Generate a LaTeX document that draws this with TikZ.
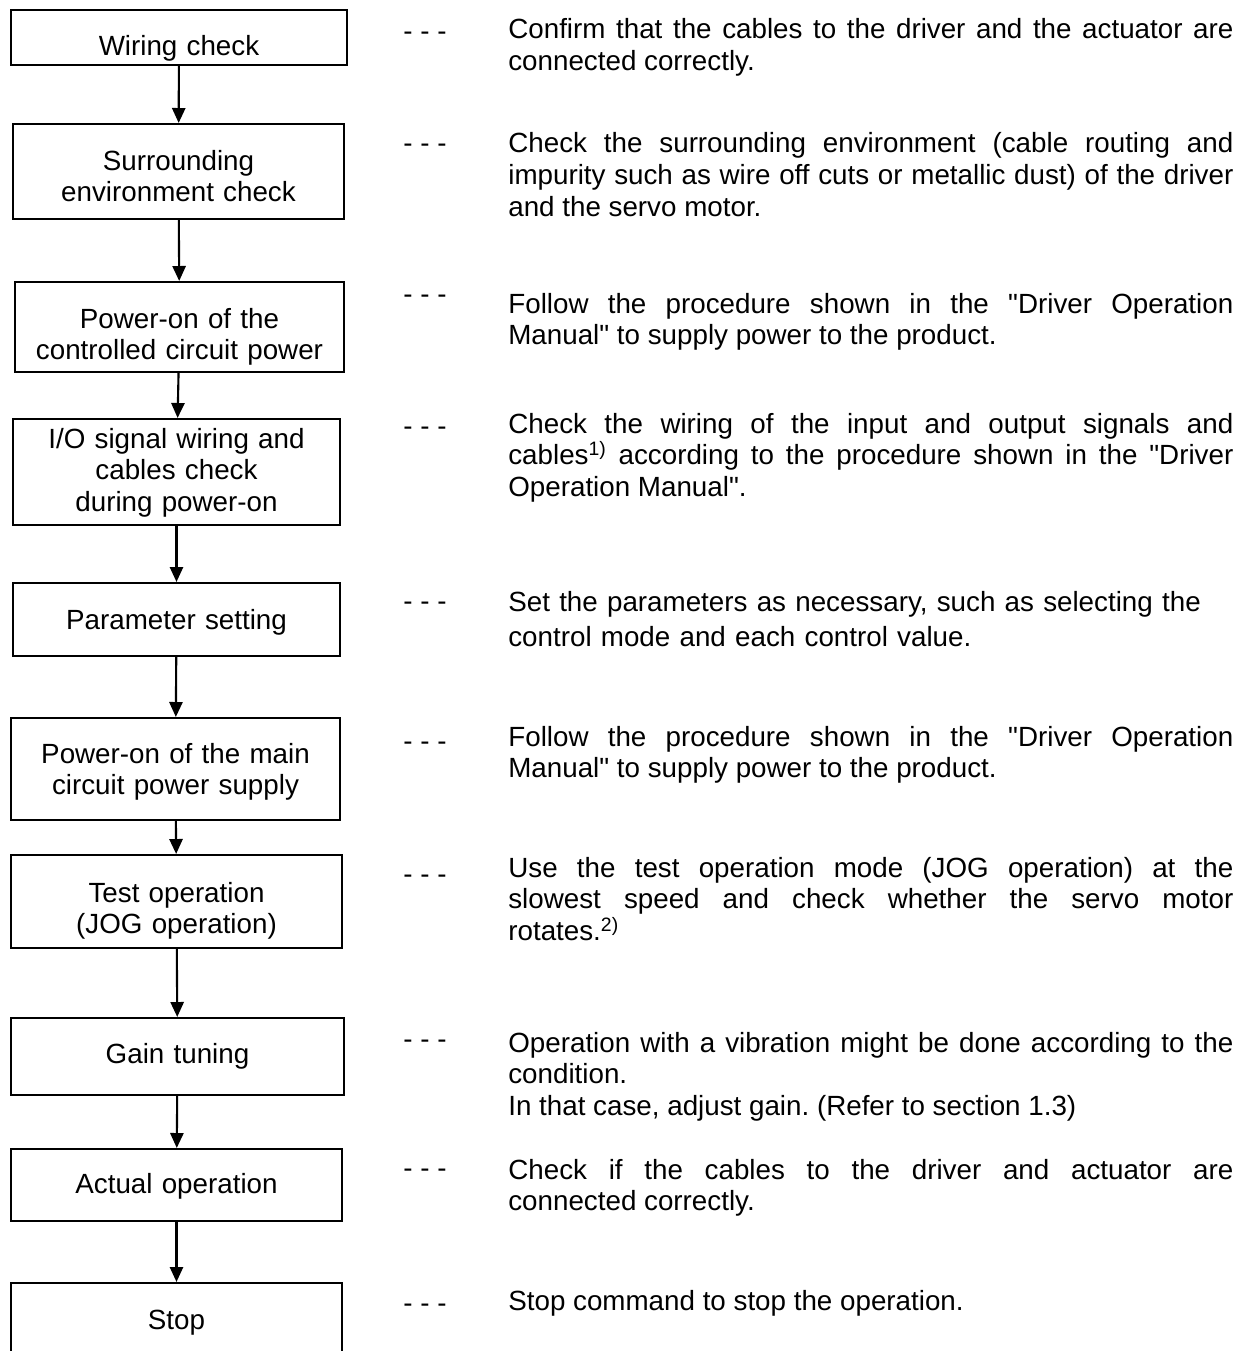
\documentclass[tikz,border=0pt]{standalone}
\usepackage{fontspec}
\setmainfont{Liberation Sans}[Ligatures=TeXOff]
\usetikzlibrary{arrows.meta}
\frenchspacing

\begin{document}
\begin{tikzpicture}[
    stepbox/.style={draw, line width=1.2pt, inner sep=0pt},
    steplabel/.style={anchor=base, inner sep=0pt, text width=6.5cm, align=center, font=\fontsize{15.8}{18.2}\selectfont},
    flow/.style={line width=1.2pt, -{Triangle[length=8.5pt,width=7.5pt]}},
    dashmark/.style={anchor=base, inner sep=0pt, font=\fontsize{15.8}{18.2}\selectfont},
    note/.style={anchor=base west, inner sep=0pt, text width=14.5cm, align=justify, font=\fontsize{15.8}{18.2}\selectfont}
  ]
			\useasboundingbox (0,0) rectangle (24.94,-27.02);
			\clip (0,0) rectangle (24.94,-27.02);
			% steps
			\node [stepbox, minimum width=6.72cm, minimum height=1.10cm] (wiring) at (3.58,-0.75) {};
			\node [stepbox, minimum width=6.62cm, minimum height=1.90cm] (envcheck) at (3.57,-3.43) {};
			\node [stepbox, minimum width=6.58cm, minimum height=1.80cm] (ctrlpower) at (3.59,-6.54) {};
			\node [stepbox, minimum width=6.54cm, minimum height=2.12cm] (iocheck) at (3.53,-9.44) {};
			\node [stepbox, minimum width=6.54cm, minimum height=1.46cm] (param) at (3.53,-12.39) {};
			\node [stepbox, minimum width=6.58cm, minimum height=2.04cm] (mainpower) at (3.51,-15.38) {};
			\node [stepbox, minimum width=6.62cm, minimum height=1.86cm] (jogtest) at (3.53,-18.03) {};
			\node [stepbox, minimum width=6.66cm, minimum height=1.54cm] (gain) at (3.55,-21.13) {};
			\node [stepbox, minimum width=6.62cm, minimum height=1.44cm] (actual) at (3.53,-23.70) {};
			\node [stepbox, minimum width=6.62cm, minimum height=1.48cm] (stop) at (3.53,-26.40) {};
			\node [steplabel] (wiringlbl) at (3.58,-1.12) {Wiring check};
			\node [steplabel] (envchecklbl) at (3.57,-3.40) {Surrounding\\environment check};
			\node [steplabel] (ctrlpowerlbl) at (3.59,-6.56) {Power-on of the\\controlled circuit power};
			\node [steplabel] (iochecklbl) at (3.53,-8.96) {I/O signal wiring and\\cables check\\during power-on};
			\node [steplabel] (paramlbl) at (3.53,-12.58) {Parameter setting};
			\node [steplabel] (mainpowerlbl) at (3.51,-15.26) {Power-on of the main\\circuit power supply};
			\node [steplabel] (jogtestlbl) at (3.53,-18.04) {Test operation\\(JOG operation)};
			\node [steplabel] (gainlbl) at (3.55,-21.26) {Gain tuning};
			\node [steplabel] (actuallbl) at (3.53,-23.86) {Actual operation};
			\node [steplabel] (stoplbl) at (3.53,-26.58) {Stop};
			% arrows
			\draw [flow] (wiring) -- (envcheck);
			\draw [flow] (envcheck) -- (ctrlpower);
			\draw [flow] (ctrlpower) -- (iocheck);
			\draw [flow] (iocheck) -- (param);
			\draw [flow] (param) -- (mainpower);
			\draw [flow] (mainpower) -- (jogtest);
			\draw [flow] (jogtest) -- (gain);
			\draw [flow] (gain) -- (actual);
			\draw [flow] (actual) -- (stop);
			% dashes
			\node [dashmark] (wiringdash) at (8.5,-0.82) {- - -};
			\node [dashmark] (envdash) at (8.5,-3.06) {- - -};
			\node [dashmark] (ctrldash) at (8.5,-6.06) {- - -};
			\node [dashmark] (iodash) at (8.5,-8.70) {- - -};
			\node [dashmark] (paramdash) at (8.5,-12.20) {- - -};
			\node [dashmark] (maindash) at (8.5,-15.00) {- - -};
			\node [dashmark] (jogdash) at (8.5,-17.66) {- - -};
			\node [dashmark] (gaindash) at (8.5,-20.96) {- - -};
			\node [dashmark] (actualdash) at (8.5,-23.54) {- - -};
			\node [dashmark] (stopdash) at (8.5,-26.24) {- - -};
			% descriptions
			\node [note] (wiringtxt) at (10.16,-0.78) {Confirm that the cables to the driver and the actuator are\linebreak connected correctly.};
			\node [note] (envtxt) at (10.16,-3.06) {Check the surrounding environment (cable routing and\linebreak impurity such as wire off cuts or metallic dust) of the driver\linebreak and the servo motor.};
			\node [note] (ctrltxt) at (10.16,-6.26) {Follow the procedure shown in the "Driver Operation\linebreak Manual" to supply power to the product.};
			\node [note] (iotxt) at (10.16,-8.66) {Check the wiring of the input and output signals and\linebreak cables\textsuperscript{1)} according to the procedure shown in the "Driver\linebreak Operation Manual".};
			\node [note, align=left] (paramtxt) at (10.16,-12.22) {Set the parameters as necessary, such as selecting the\\[0.08cm]control mode and each control value.};
			\node [note] (maintxt) at (10.16,-14.92) {Follow the procedure shown in the "Driver Operation\linebreak Manual" to supply power to the product.};
			\node [note] (jogtxt) at (10.16,-17.54) {Use the test operation mode (JOG operation) at the\linebreak slowest speed and check whether the servo motor\linebreak rotates.\textsuperscript{2)}};
			\node [note] (gaintxt) at (10.16,-21.04) {Operation with a vibration might be done according to the\linebreak condition.\\In that case, adjust gain. (Refer to section 1.3)};
			\node [note] (actualtxt) at (10.16,-23.58) {Check if the cables to the driver and actuator are\linebreak connected correctly.};
			\node [note] (stoptxt) at (10.16,-26.20) {Stop command to stop the operation.};
		\end{tikzpicture}
\end{document}
